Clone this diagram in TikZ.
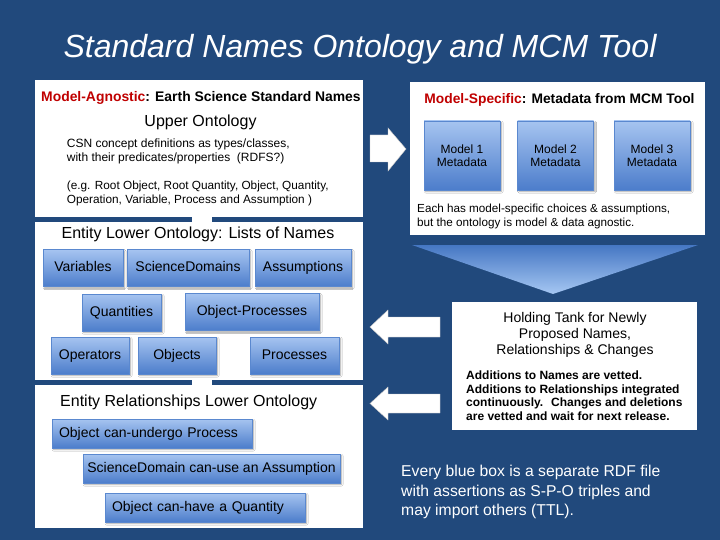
\documentclass[tikz,border=0pt]{standalone}
\usepackage{fontspec}
\setmainfont{Liberation Sans}
\usepackage{tikz}
\usetikzlibrary{shadows.blur}
\definecolor{slide}{HTML}{21497C}
\definecolor{boxTop}{HTML}{A6C4F0}
\definecolor{boxBot}{HTML}{4C7DCB}
\definecolor{boxEdge}{HTML}{5A88CF}
\definecolor{chevTop}{HTML}{4577C3}
\definecolor{chevBot}{HTML}{A6C7F3}
\definecolor{agnRed}{HTML}{C00000}

\begin{document}
\begin{tikzpicture}[x=1pt, y=-1pt,
    panel/.style={fill=white, inner sep=0pt},
    blue/.style={draw=boxEdge, top color=boxTop, bottom color=boxBot,
                 inner sep=0pt, font=\fontsize{14}{16}\selectfont,
                 text height=10.5pt, text depth=3pt,
                 blur shadow={shadow blur radius=1.5pt, shadow xshift=1.5pt,
                              shadow yshift=-1.5pt, shadow opacity=35}},
    nm/.style ={blue, minimum height=37pt},
    model/.style={blue, font=\fontsize{12}{13}\selectfont, align=center,
                  text height=, text depth=,
                  minimum width=76pt, minimum height=69pt},
    rel/.style={blue, align=left, minimum height=29pt, inner xsep=7pt},
    txt/.style={inner sep=0pt, anchor=base west, align=left},
    blockarr/.style={fill=white, draw=gray!45}]

  \fill[slide] (0,0) rectangle (720,540);
  \useasboundingbox (0,0) rectangle (720,540);

  \node[inner sep=0pt, anchor=base, text=white,
        font=\fontsize{32}{38}\selectfont\itshape] (title) at (360,58)
        {Standard Names Ontology and MCM Tool};

  % model-agnostic side (multi-line texts sit on their last baseline)
  \fill[white] (192,214) rectangle (212,225);
  \fill[white] (192,377) rectangle (212,388);
  \node[panel, minimum width=328pt, minimum height=137pt] (agnostic) at (199,148.5) {};
  \node[panel, minimum width=328pt, minimum height=158pt] (lowerOnt) at (199,301) {};
  \node[panel, minimum width=328pt, minimum height=143pt] (relOnt)   at (199,456.5) {};

  \node[txt, font=\fontsize{13.9}{16}\selectfont\bfseries] (agnHead) at (41,101.5)
        {\textcolor{agnRed}{Model-Agnostic}: Earth Science Standard Names};
  \node[txt, anchor=base, font=\fontsize{16}{18}\selectfont] (upper) at (200.5,126.7) {Upper Ontology};
  \node[txt, font=\fontsize{12}{14}\selectfont] (csn) at (66.7,161.7)
        {CSN concept definitions as types/classes,\\with their predicates/properties~ (RDFS?)};
  \node[txt, font=\fontsize{11.8}{14}\selectfont] (roots) at (66.7,204)
        {(e.g. Root Object, Root Quantity, Object, Quantity,\\Operation, Variable, Process and Assumption )};

  \node[txt, anchor=base, font=\fontsize{16}{18}\selectfont] (lowerHead) at (198,238)
        {Entity Lower Ontology: Lists of Names};
  \node[nm, minimum width=80pt]  (vars)    at (83,268)      {Variables};
  \node[nm, minimum width=122pt] (domains) at (188,268)     {ScienceDomains};
  \node[nm, minimum width=96pt]  (assum)   at (303,268)     {Assumptions};
  \node[nm, minimum width=79pt]  (quant)   at (121.5,312.5) {Quantities};
  \node[nm, minimum width=134pt] (objProc) at (252,312)     {Object-Processes};
  \node[nm, minimum width=78pt]  (opers)   at (90,355.5)    {Operators};
  \node[nm, minimum width=78pt]  (objs)    at (177,355.5)   {Objects};
  \node[nm, minimum width=89pt]  (procs)   at (294.5,355.5) {Processes};

  \node[txt, font=\fontsize{16}{18}\selectfont] (relHead) at (60,406.7)
        {Entity Relationships Lower Ontology};
  \node[rel, text width=186pt] (undergo) at (152,433.5) {Object can-undergo Process};
  \node[rel, minimum width=257pt, inner xsep=4pt] (canUse) at (211.5,468.5) {ScienceDomain can-use an Assumption};
  \node[rel, text width=186pt] (canHave) at (205,507.5) {Object can-have a Quantity};

  % model-specific side
  \node[panel, minimum width=295pt, minimum height=153pt] (specific) at (557.5,158.5) {};
  \node[txt, anchor=base, font=\fontsize{13.8}{16}\selectfont\bfseries] (specHead) at (559.5,103.3)
        {\textcolor{agnRed}{Model-Specific}: Metadata from MCM Tool};
  \node[model] (meta1) at (462,155.5)   {Model 1\\Metadata};
  \node[model] (meta2) at (555.5,155.5) {Model 2\\Metadata};
  \node[model] (meta3) at (652,155.5)   {Model 3\\Metadata};
  \node[txt, font=\fontsize{11.7}{14}\selectfont] (eachHas) at (417,226)
        {Each has model-specific choices \& assumptions,\\but the ontology is model \& data agnostic.};

  \shade[top color=chevTop, bottom color=chevBot] (412,245) -- (698,245) -- (553,294) -- cycle;

  \node[panel, minimum width=245pt, minimum height=128pt] (tank) at (574.5,366) {};
  \node[txt, anchor=base, align=center, font=\fontsize{14}{15.7}\selectfont] (tankHead) at (575,354.1)
        {Holding Tank for Newly\\Proposed Names,\\Relationships \& Changes};
  \node[txt, font=\fontsize{12}{13.8}\selectfont\bfseries] (vetting) at (466,420.7)
        {Additions to Names are vetted.\\Additions to Relationships integrated\\continuously.~ Changes and deletions\\are vetted and wait for next release.};

  % block arrows
  \draw[blockarr] (370,135) -- (388,135) -- (388,128) -- (406,149)
        -- (388,171) -- (388,162) -- (370,162) -- cycle;
  \draw[blockarr] (440,317) -- (388,317) -- (388,310) -- (370,327)
        -- (388,344) -- (388,337) -- (440,337) -- cycle;
  \draw[blockarr] (440,394) -- (388,394) -- (388,387) -- (370,403.5)
        -- (388,420) -- (388,413) -- (440,413) -- cycle;

  \node[txt, text=white, font=\fontsize{15.7}{19.5}\selectfont] (rdfNote) at (401,515.7)
        {Every blue box is a separate RDF file\\with assertions as S-P-O triples and\\may import others (TTL).};
\end{tikzpicture}
\end{document}
